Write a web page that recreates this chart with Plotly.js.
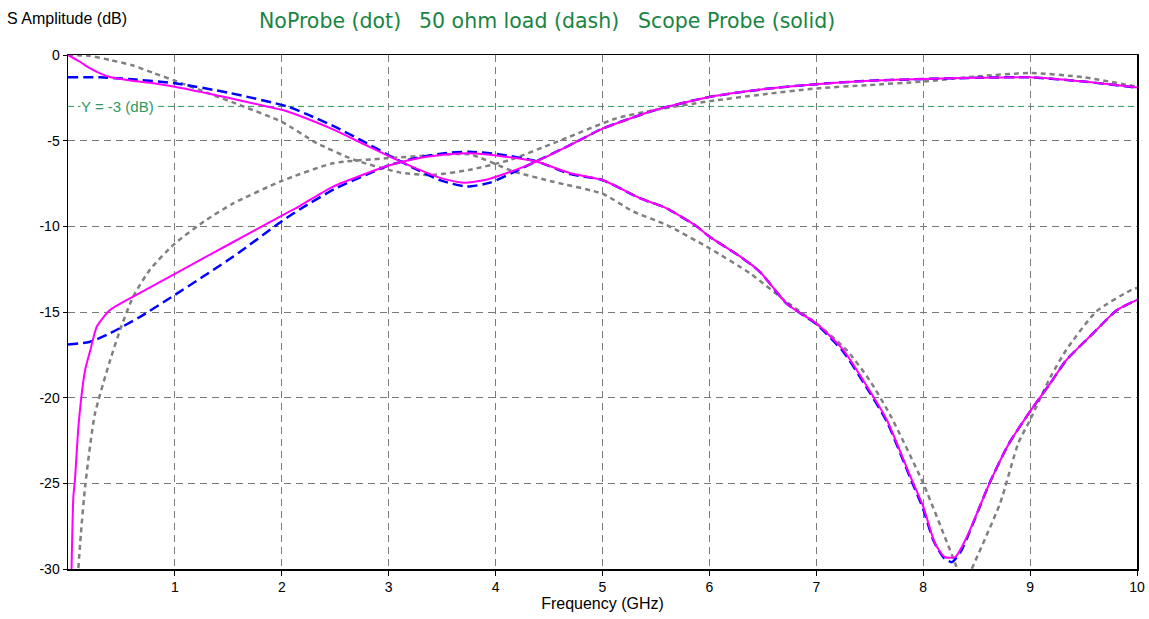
<!DOCTYPE html>
<html>
<head>
<meta charset="utf-8">
<script src="https://cdn.plot.ly/plotly-3.0.1.min.js"></script>
<style>html,body{margin:0;padding:0;background:#fff;}#chart{width:1149px;height:619px;}</style>
</head>
<body>
<div id="chart"></div>
<script>
// NoProbe (dot) - gray
const noProbeAX = [0,0.2,0.4,0.6,0.8,1.0,1.3,1.64,2.0,2.33,2.67,3.1,3.4,3.76,4.13,4.54,5.13,5.5,6.0,6.5,7.0,7.5,8.0,8.5,9.0,9.5,10];
const noProbeAY = [0,-0.05,-0.3,-0.6,-1.05,-1.5,-2.2,-3.0,-3.9,-5.15,-6.1,-6.85,-7.0,-6.7,-6.13,-5.15,-3.7,-3.2,-2.7,-2.3,-1.95,-1.75,-1.55,-1.25,-1.05,-1.3,-1.85];
const noProbeBX = [0.085,0.12,0.16,0.25,0.39,0.49,0.61,0.77,1.0,1.3,1.55,2.0,2.48,2.98,3.48,3.76,4.17,4.54,5.0,5.29,5.6,6.0,6.38,6.72,7.0,7.28,7.5,7.69,8.0,8.31,8.38,8.45,8.72,8.89,9.0,9.19,9.34,9.62,9.95,10];
const noProbeBY = [-31,-28,-25.2,-21.0,-17.9,-16.0,-14.1,-12.5,-11.0,-9.6,-8.65,-7.35,-6.32,-6.03,-5.83,-5.8,-6.8,-7.4,-8.1,-9.14,-9.92,-11.28,-12.74,-14.4,-15.66,-17.2,-19.0,-21.0,-25.0,-29.85,-31,-30.05,-26.15,-22.65,-21.3,-18.8,-17.2,-14.97,-13.7,-13.6];

// 50 ohm load (dash) - blue
const loadAX = [0,0.3,0.45,0.6,1.0,1.5,2.05,2.25,2.5,2.75,3.0,3.25,3.5,3.73,3.95,4.15,4.38,4.7,5.0,5.5,6.0,6.5,7.0,7.5,8.0,8.5,9.0,9.5,10];
const loadAY = [-1.3,-1.3,-1.35,-1.42,-1.65,-2.2,-3.0,-3.5,-4.2,-5.0,-5.85,-6.65,-7.35,-7.68,-7.45,-6.9,-6.2,-5.25,-4.3,-3.2,-2.45,-2.0,-1.7,-1.5,-1.4,-1.33,-1.3,-1.55,-1.9];
const loadBX = [0,0.2,0.39,0.67,1.0,1.55,2.0,2.17,2.5,3.0,3.3,3.57,3.76,4.04,4.38,4.7,5.0,5.35,5.6,5.88,6.0,6.29,6.47,6.72,6.85,7.0,7.25,7.45,7.66,7.88,8.0,8.1,8.2,8.27,8.35,8.41,8.62,8.8,9.0,9.19,9.34,9.59,9.81,10];
const loadBY = [-16.9,-16.75,-16.25,-15.3,-14.0,-11.75,-9.7,-9.0,-7.8,-6.45,-5.95,-5.7,-5.65,-5.8,-6.2,-6.95,-7.3,-8.36,-8.95,-10.0,-10.6,-11.77,-12.64,-14.5,-15.07,-15.7,-17.3,-19.2,-21.4,-24.7,-26.5,-28.4,-29.4,-29.6,-29.0,-28.2,-25.0,-22.7,-20.8,-19.15,-17.8,-16.24,-14.9,-14.3];

// Scope Probe (solid) - magenta
const scopeAX = [0,0.1,0.2,0.3,0.4,0.6,0.8,1.0,1.5,1.86,2.0,2.25,2.5,2.75,3.0,3.25,3.5,3.7,3.9,4.1,4.38,4.7,5.0,5.5,6.0,6.5,7.0,7.5,8.0,8.5,9.0,9.5,10];
const scopeAY = [0,-0.35,-0.75,-1.07,-1.3,-1.5,-1.65,-1.85,-2.5,-3.0,-3.2,-3.75,-4.4,-5.15,-5.9,-6.6,-7.2,-7.45,-7.3,-6.9,-6.22,-5.25,-4.3,-3.2,-2.45,-2.0,-1.7,-1.5,-1.4,-1.33,-1.3,-1.55,-1.9];
const scopeBX = [0.03,0.05,0.065,0.1,0.16,0.21,0.27,0.39,0.61,1.0,1.55,2.0,2.17,2.48,3.0,3.3,3.57,3.76,4.04,4.38,4.7,5.0,5.35,5.6,5.88,6.0,6.29,6.47,6.72,6.85,7.0,7.25,7.45,7.66,7.88,8.0,8.11,8.2,8.3,8.41,8.62,8.8,9.0,9.19,9.34,9.59,9.81,10];
const scopeBY = [-31,-25.8,-24.8,-21.5,-18.4,-17.2,-15.85,-14.9,-14.1,-12.77,-10.9,-9.37,-8.8,-7.68,-6.45,-6.0,-5.8,-5.74,-5.9,-6.22,-6.9,-7.3,-8.36,-8.95,-10.0,-10.6,-11.77,-12.64,-14.5,-15.07,-15.66,-17.2,-19.1,-21.3,-24.6,-26.35,-28.5,-29.3,-29.3,-28.1,-25.0,-22.7,-20.8,-19.15,-17.8,-16.24,-14.9,-14.3];

const xTicks = [1,2,3,4,5,6,7,8,9,10];
const yTicks = [0,-5,-10,-15,-20,-25,-30];
const legendTexts = ["NoProbe (dot)", "50 ohm load (dash)", "Scope Probe (solid)"];
const legendX = [257, 417, 636];
const refLevel = -3;
const refLabel = "Y = -3 (dB)";

const gray = '#808080', blue = '#0000ff', magenta = '#ff00ff';
const sm = 0.6;
function tr(x, y, color, dash, w) {
  return {x: x, y: y, type: 'scatter', mode: 'lines', hoverinfo: 'skip',
    line: {color: color, dash: dash, width: w, shape: 'spline', smoothing: sm}};
}
const data = [
  tr(noProbeAX, noProbeAY, gray, '5px,4px', 2.5),
  tr(noProbeBX, noProbeBY, gray, '5px,4px', 2.5),
  tr(loadAX, loadAY, blue, '10px,5px', 2.5),
  tr(loadBX, loadBY, blue, '10px,5px', 2.5),
  tr(scopeAX, scopeAY, magenta, 'solid', 2),
  tr(scopeBX, scopeBY, magenta, 'solid', 2)
];

const font = 'Liberation Sans, Arial, sans-serif';
const W = 1149, ml = 68, mr = 12;
const annotations = legendTexts.map((t, i) => ({
  text: t, xref: 'paper', yref: 'paper',
  x: (legendX[i] - ml) / (W - ml - mr), xanchor: 'left',
  y: 1, yshift: 34, yanchor: 'middle', showarrow: false,
  font: {family: 'DejaVu Sans, sans-serif', size: 20.5, color: '#1a8444'}
}));
annotations.push({
  text: 'S Amplitude (dB)', xref: 'paper', yref: 'paper',
  x: (5 - ml) / (W - ml - mr), xanchor: 'left', y: 1, yshift: 37, yanchor: 'middle',
  showarrow: false, font: {family: font, size: 16, color: '#000'}
});
annotations.push({
  text: refLabel, xref: 'x', yref: 'y', x: 0.11, y: refLevel, xanchor: 'left', yanchor: 'middle',
  showarrow: false, bgcolor: '#ffffff', borderpad: 0,
  font: {family: font, size: 15, color: '#2e9a5e'}
});

const layout = {
  width: 1149, height: 619,
  margin: {l: ml, r: mr, t: 55, b: 50, pad: 0},
  paper_bgcolor: '#fff', plot_bgcolor: '#fff',
  showlegend: false,
  font: {family: font, size: 13, color: '#000'},
  xaxis: {
    range: [0, 10], tickvals: xTicks, ticktext: xTicks.map(String),
    showgrid: true, gridcolor: '#7a7a7a', griddash: '7px,5px', gridwidth: 1,
    zeroline: false, showline: true, mirror: true, linecolor: '#000', linewidth: 1.5,
    ticks: 'outside', ticklen: 5, tickcolor: '#000',
    tickfont: {family: font, size: 14, color: '#000'},
    title: {text: 'Frequency (GHz)', font: {family: font, size: 16, color: '#000'}, standoff: 3}
  },
  yaxis: {
    range: [-30, 0], tickvals: yTicks, ticktext: yTicks.map(String),
    showgrid: true, gridcolor: '#7a7a7a', griddash: '7px,5px', gridwidth: 1,
    zeroline: false, showline: true, mirror: true, linecolor: '#000', linewidth: 1.5,
    ticks: 'outside', ticklen: 4, tickcolor: '#000',
    tickfont: {family: font, size: 14, color: '#000'}
  },
  shapes: [{
    type: 'line', xref: 'x', yref: 'y', x0: 0, x1: 10, y0: refLevel, y1: refLevel,
    line: {color: '#2e9a5e', width: 1, dash: '6px,4px'}, layer: 'below'
  }],
  annotations: annotations
};
Plotly.newPlot('chart', data, layout, {displayModeBar: false, staticPlot: true});
</script>
</body>
</html>
